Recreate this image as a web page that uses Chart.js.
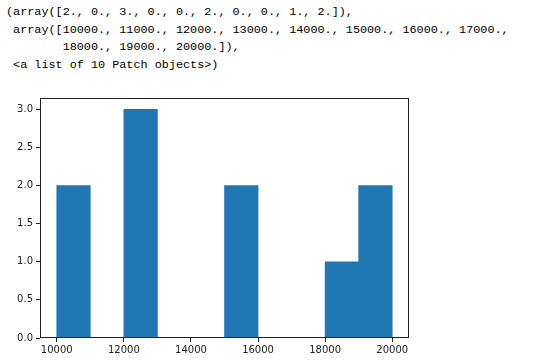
<!DOCTYPE html>
<html>
<head>
<meta charset="utf-8">
<script src="https://cdn.jsdelivr.net/npm/chart.js@4/dist/chart.umd.min.js"></script>
<style>
  html, body { margin: 0; padding: 0; background: #fff; }
  body { width: 560px; height: 363px; position: relative; overflow: hidden; }
  #out { position: absolute; left: 6px; top: 4px; margin: 0; font-family: "Liberation Mono", monospace; font-size: 11.8px; line-height: 17.7px; color: #000; white-space: pre; }
  #wrap { position: absolute; left: 0; top: 80px; width: 420px; height: 283px; }
</style>
</head>
<body>
<pre id="out"></pre>
<div id="wrap"><canvas id="c"></canvas></div>
<script>
// Histogram data
const counts = [2, 0, 3, 0, 0, 2, 0, 0, 1, 2];
const binEdges = [10000, 11000, 12000, 13000, 14000, 15000, 16000, 17000, 18000, 19000, 20000];
const yTicks = [0, 0.5, 1.0, 1.5, 2.0, 2.5, 3.0];
const xTicks = [10000, 12000, 14000, 16000, 18000, 20000];

// Printed output text, built from the arrays
const fmt = v => v + '.';
const edgeStr = binEdges.map(fmt);
const lines = [
  '(array([' + counts.map(fmt).join(', ') + ']),',
  ' array([' + edgeStr.slice(0, 8).join(', ') + ',',
  '        ' + edgeStr.slice(8).join(', ') + ']),',
  ' <a list of ' + counts.length + ' Patch objects>)'
];
document.getElementById('out').textContent = lines.join('\n');

const points = counts.map((c, i) => ({ x: (binEdges[i] + binEdges[i + 1]) / 2, y: c }));

const boxPlugin = {
  id: 'box',
  afterDraw(chart) {
    const a = chart.chartArea, ctx = chart.ctx;
    ctx.save();
    ctx.strokeStyle = '#222';
    ctx.lineWidth = 1;
    ctx.strokeRect(Math.round(a.left) + 0.5, Math.round(a.top) + 0.5, Math.round(a.right - a.left) - 1, Math.round(a.bottom - a.top) - 1);
    ctx.restore();
  }
};

new Chart(document.getElementById('c'), {
  type: 'bar',
  data: {
    datasets: [{
      data: points,
      backgroundColor: '#1f77b4',
      borderWidth: 0,
      barPercentage: 1,
      categoryPercentage: 1
    }]
  },
  options: {
    responsive: true,
    maintainAspectRatio: false,
    animation: false,
    layout: { padding: { top: 18, right: 11, left: 0, bottom: 0 } },
    plugins: { legend: { display: false }, tooltip: { enabled: false } },
    scales: {
      x: {
        type: 'linear',
        offset: false,
        min: 9500,
        max: 20500,
        grid: { offset: false, drawOnChartArea: false, drawTicks: true, tickLength: 4, color: '#222', tickWidth: 1 },
        border: { display: false },
        afterBuildTicks: s => { s.ticks = xTicks.map(v => ({ value: v })); },
        ticks: { includeBounds: false, stepSize: 2000, maxRotation: 0, autoSkip: false, padding: 2, color: '#222', font: { family: 'DejaVu Sans', size: 10 }, callback: v => String(v) },
        afterFit: s => { s.height = 25; }
      },
      y: {
        type: 'linear',
        min: 0,
        max: 3.15,
        grid: { drawOnChartArea: false, drawTicks: true, tickLength: 4, color: '#222', tickWidth: 1 },
        border: { display: false },
        afterBuildTicks: s => { s.ticks = yTicks.map(v => ({ value: v })); },
        ticks: { includeBounds: false, stepSize: 0.5, padding: 3, color: '#222', font: { family: 'DejaVu Sans', size: 10 }, callback: v => Number(v).toFixed(1) },
        afterFit: s => { s.width = 40; }
      }
    }
  },
  plugins: [boxPlugin]
});
</script>
</body>
</html>
